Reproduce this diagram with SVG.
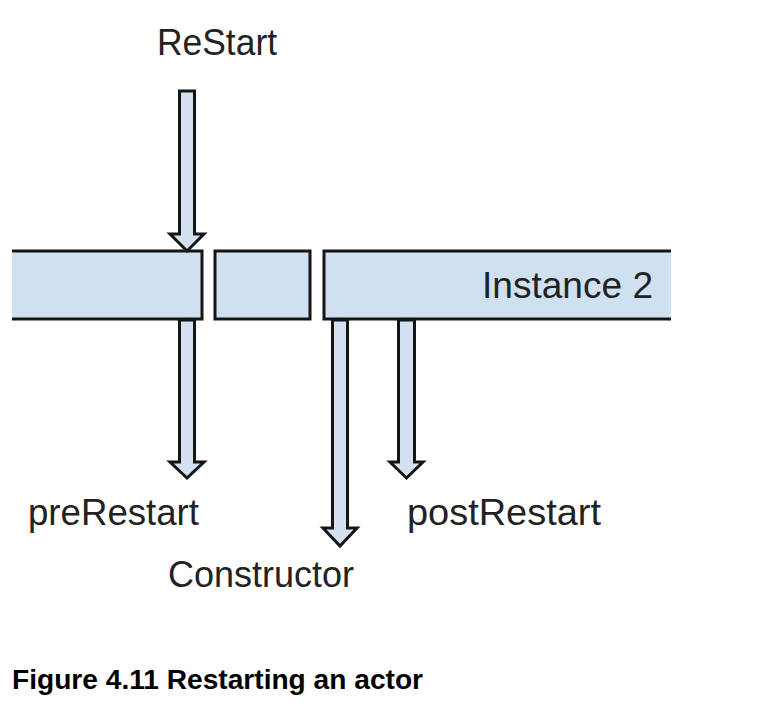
<svg xmlns="http://www.w3.org/2000/svg" width="782" height="721" viewBox="0 0 782 721">
<style>
.box{fill:#cfe0f1;stroke:#151515;stroke-width:3;stroke-linejoin:miter}
.arr{fill:#d3e0ef;stroke:#151515;stroke-width:3;stroke-linejoin:miter}
.lbl{font-family:"Liberation Sans",Arial,sans-serif;font-size:36px;fill:#222}
.cap{font-family:"Liberation Sans",Arial,sans-serif;font-size:27px;font-weight:bold;fill:#000}
</style>
<rect width="782" height="721" fill="#ffffff"/>
<g id="instance1">
<path class="box" d="M12,251 H202 V319 H12"/>
</g>
<g id="gap-box">
<rect class="box" x="215" y="251" width="95" height="68"/>
</g>
<g id="instance2">
<path class="box" d="M671,251 H324 V319 H671"/>
<text class="lbl" x="482" y="298" textLength="171" lengthAdjust="spacingAndGlyphs">Instance 2</text>
</g>
<g id="connectors">
<polygon class="arr" points="179.5,91 194.5,91 194.5,234 204,234 187,251 170,234 179.5,234"/>
<polygon class="arr" points="179.5,320 194.5,320 194.5,462 204,462 187,478 170,462 179.5,462"/>
<polygon class="arr" points="332.5,320 347.5,320 347.5,528 357,528 340,546 323,528 332.5,528"/>
<polygon class="arr" points="398.5,320 414.5,320 414.5,462 423,462 406.5,478 390,462 398.5,462"/>
</g>
<g id="restart-label">
<text class="lbl" x="157" y="55" textLength="120" lengthAdjust="spacingAndGlyphs">ReStart</text>
</g>
<g id="prerestart-label">
<text class="lbl" x="28" y="525" textLength="171" lengthAdjust="spacingAndGlyphs">preRestart</text>
</g>
<g id="constructor-label">
<text class="lbl" x="168" y="587" textLength="186" lengthAdjust="spacingAndGlyphs">Constructor</text>
</g>
<g id="postrestart-label">
<text class="lbl" x="407" y="525" textLength="194" lengthAdjust="spacingAndGlyphs">postRestart</text>
</g>
<text class="cap" x="12" y="689" textLength="411" lengthAdjust="spacingAndGlyphs">Figure 4.11 Restarting an actor</text>
</svg>
